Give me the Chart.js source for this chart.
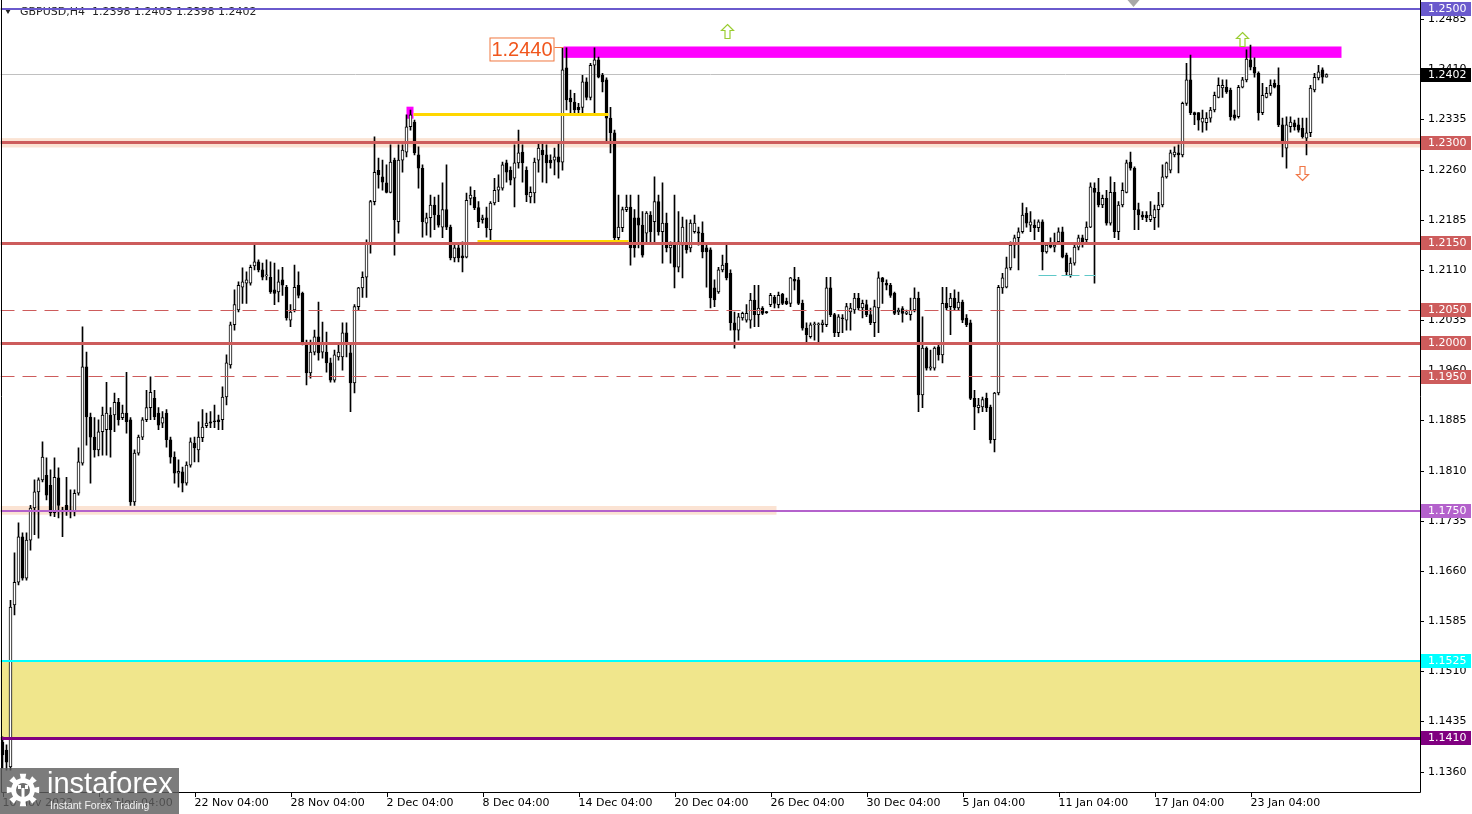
<!DOCTYPE html>
<html>
<head>
<meta charset="utf-8">
<style>
  html, body { margin: 0; padding: 0; background: #fff; }
  #wrap { width: 1472px; height: 814px; }
</style>
<script src="https://cdn.jsdelivr.net/npm/chart.js@4.4.0/dist/chart.umd.min.js"></script>
</head>
<body>
<div id="wrap"><canvas id="chart" width="1472" height="814"></canvas></div>
<script>
// GBPUSD H4 candles
const symbolTitle = 'GBPUSD,H4  1.2398 1.2403 1.2398 1.2402';

const opens = [
  1.1404,1.1392,1.1367,1.1609,1.1643,1.1711,1.1649,1.1706,1.1754,1.1778,
  1.1796,1.1803,1.1788,1.1747,1.1799,1.1751,1.1758,1.1751,1.1748,1.1776,
  1.1821,1.1965,1.1890,1.1860,1.1841,1.1868,1.1871,1.1893,1.1893,1.1912,
  1.1889,1.1896,1.1886,1.1763,1.1836,1.1860,1.1886,1.1904,1.1918,1.1896,
  1.1881,1.1896,1.1856,1.1830,1.1806,1.1808,1.1791,1.1818,1.1851,1.1841,
  1.1859,1.1877,1.1883,1.1884,1.1886,1.1886,1.1920,1.1968,1.2028,1.2050,
  1.2084,1.2090,1.2090,1.2116,1.2122,1.2110,1.2101,1.2099,1.2080,1.2077,
  1.2095,1.2084,1.2035,1.2050,1.2087,1.2075,1.1998,1.1956,1.1987,1.2010,
  1.1987,1.1987,1.1971,1.1945,1.1980,1.1980,1.2016,1.1986,1.1941,1.2055,
  1.2083,1.2099,1.2150,1.2212,1.2259,1.2249,1.2240,1.2226,1.2274,1.2182,
  1.2274,1.2286,1.2324,1.2331,1.2282,1.2262,1.2180,1.2188,1.2207,1.2192,
  1.2174,1.2200,1.2174,1.2128,1.2143,1.2131,1.2129,1.2217,1.2219,1.2203,
  1.2185,1.2188,1.2170,1.2210,1.2229,1.2232,1.2270,1.2259,1.2247,1.2270,
  1.2286,1.2259,1.2219,1.2225,1.2274,1.2289,1.2282,1.2274,1.2274,1.2279,
  1.2271,1.2412,1.2367,1.2361,1.2353,1.2353,1.2391,1.2368,1.2416,1.2424,
  1.2401,1.2394,1.2337,1.2315,1.2158,1.2173,1.2200,1.2204,1.2188,1.2188,
  1.2177,1.2165,1.2192,1.2182,1.2212,1.2167,1.2180,1.2143,1.2147,1.2114,
  1.2147,1.2147,1.2143,1.2167,1.2167,1.2165,1.2143,1.2140,1.2083,1.2077,
  1.2110,1.2120,1.2105,1.2031,1.2020,1.2038,1.2035,1.2035,1.2065,1.2043,
  1.2053,1.2047,1.2058,1.2069,1.2058,1.2074,1.2063,1.2060,1.2096,1.2095,
  1.2060,1.2023,1.2010,1.2028,1.2028,1.2028,1.2028,1.2083,1.2043,1.2016,
  1.2038,1.2035,1.2047,1.2050,1.2068,1.2053,1.2058,1.2043,1.2031,1.2053,
  1.2098,1.2090,1.2087,1.2075,1.2047,1.2052,1.2045,1.2043,1.2050,1.2068,
  1.1923,1.1993,1.1963,1.1963,1.1995,1.1983,1.2060,1.2055,1.2068,1.2053,
  1.2062,1.2038,1.2031,1.1918,1.1904,1.1905,1.1918,1.1905,1.1856,1.1926,
  1.2083,1.2084,1.2113,1.2147,1.2158,1.2167,1.2195,1.2177,1.2177,1.2173,
  1.2182,1.2137,1.2147,1.2144,1.2152,1.2167,1.2132,1.2102,1.2120,1.2144,
  1.2158,1.2155,1.2174,1.2232,1.2226,1.2207,1.2217,1.2180,1.2226,1.2167,
  1.2207,1.2226,1.2271,1.2262,1.2200,1.2192,1.2192,1.2185,1.2188,1.2200,
  1.2207,1.2249,1.2259,1.2282,1.2285,1.2282,1.2359,1.2394,1.2345,1.2345,
  1.2331,1.2330,1.2337,1.2349,1.2368,1.2382,1.2383,1.2379,1.2342,1.2339,
  1.2383,1.2394,1.2424,1.2413,1.2404,1.2345,1.2368,1.2374,1.2389,1.2386,
  1.2327,1.2292,1.2324,1.2330,1.2327,1.2322,1.2307,1.2315,1.2379,1.2397,
  1.2409,1.2398
];
const highs = [
  1.1412,1.1400,1.1616,1.1687,1.1732,1.1717,1.1717,1.1758,1.1796,1.1799,
  1.1853,1.1829,1.1811,1.1829,1.1814,1.1755,1.1800,1.1781,1.1781,1.1844,
  1.2025,1.1987,1.1896,1.1889,1.1886,1.1905,1.1942,1.1904,1.1926,1.1918,
  1.1908,1.1957,1.1889,1.1841,1.1863,1.1889,1.1930,1.1950,1.1930,1.1904,
  1.1898,1.1901,1.1860,1.1838,1.1826,1.1815,1.1823,1.1859,1.1860,1.1883,
  1.1901,1.1896,1.1898,1.1908,1.1893,1.1935,1.1983,1.2032,1.2080,1.2092,
  1.2113,1.2107,1.2117,1.2150,1.2125,1.2120,1.2125,1.2122,1.2120,1.2110,
  1.2114,1.2087,1.2058,1.2117,1.2107,1.2077,1.2005,1.2005,1.2020,1.2062,
  1.2032,1.2017,1.1978,1.1990,1.1998,1.2031,1.2031,1.1998,1.2058,1.2084,
  1.2107,1.2155,1.2214,1.2309,1.2277,1.2274,1.2267,1.2297,1.2277,1.2297,
  1.2297,1.2342,1.2349,1.2334,1.2294,1.2267,1.2195,1.2222,1.2219,1.2222,
  1.2240,1.2267,1.2177,1.2147,1.2150,1.2152,1.2225,1.2234,1.2229,1.2212,
  1.2192,1.2204,1.2212,1.2247,1.2252,1.2271,1.2274,1.2264,1.2297,1.2319,
  1.2297,1.2264,1.2234,1.2277,1.2300,1.2300,1.2297,1.2282,1.2292,1.2301,
  1.2442,1.2442,1.2379,1.2374,1.2359,1.2401,1.2397,1.2419,1.2442,1.2428,
  1.2404,1.2397,1.2353,1.2319,1.2222,1.2204,1.2222,1.2222,1.2200,1.2222,
  1.2197,1.2197,1.2197,1.2249,1.2222,1.2240,1.2195,1.2152,1.2222,1.2197,
  1.2189,1.2185,1.2185,1.2192,1.2174,1.2182,1.2147,1.2143,1.2095,1.2114,
  1.2132,1.2147,1.2110,1.2047,1.2045,1.2047,1.2058,1.2075,1.2087,1.2087,
  1.2055,1.2048,1.2075,1.2072,1.2077,1.2075,1.2068,1.2099,1.2114,1.2099,
  1.2065,1.2031,1.2031,1.2032,1.2031,1.2035,1.2099,1.2099,1.2045,1.2043,
  1.2043,1.2060,1.2060,1.2075,1.2075,1.2065,1.2065,1.2053,1.2065,1.2107,
  1.2099,1.2095,1.2090,1.2077,1.2053,1.2055,1.2050,1.2068,1.2083,1.2077,
  1.2040,1.1995,1.1990,1.1995,1.2001,1.2084,1.2084,1.2075,1.2080,1.2077,
  1.2065,1.2043,1.2035,1.1930,1.1918,1.1920,1.1926,1.1908,1.1927,1.2087,
  1.2105,1.2129,1.2152,1.2162,1.2173,1.2210,1.2203,1.2197,1.2185,1.2185,
  1.2185,1.2150,1.2158,1.2165,1.2173,1.2174,1.2135,1.2128,1.2150,1.2162,
  1.2162,1.2182,1.2240,1.2240,1.2247,1.2222,1.2229,1.2249,1.2241,1.2212,
  1.2240,1.2274,1.2286,1.2264,1.2210,1.2197,1.2197,1.2212,1.2207,1.2226,
  1.2267,1.2271,1.2289,1.2294,1.2297,1.2361,1.2419,1.2431,1.2346,1.2345,
  1.2349,1.2345,1.2353,1.2376,1.2397,1.2394,1.2394,1.2382,1.2349,1.2386,
  1.2398,1.2439,1.2446,1.2427,1.2406,1.2389,1.2383,1.2394,1.2394,1.2412,
  1.2337,1.2339,1.2339,1.2334,1.2337,1.2337,1.2337,1.2386,1.2404,1.2416,
  1.2412,1.2403
];
const lows = [
  1.1365,1.1362,1.1362,1.1594,1.1639,1.1646,1.1646,1.1691,1.1714,1.1709,
  1.1793,1.1766,1.1742,1.1741,1.1739,1.1711,1.1743,1.1739,1.1742,1.1773,
  1.1818,1.1848,1.1791,1.1830,1.1832,1.1833,1.1833,1.1830,1.1868,1.1878,
  1.1886,1.1866,1.1758,1.1758,1.1833,1.1856,1.1883,1.1886,1.1886,1.1871,
  1.1874,1.1845,1.1821,1.1791,1.1785,1.1778,1.1788,1.1815,1.1823,1.1823,
  1.1853,1.1874,1.1874,1.1874,1.1871,1.1871,1.1908,1.1963,1.2020,1.2047,
  1.2060,1.2060,1.2087,1.2110,1.2107,1.2095,1.2095,1.2075,1.2058,1.2062,
  1.2072,1.2035,1.2025,1.2047,1.2068,1.1998,1.1938,1.1948,1.1983,1.1975,
  1.1978,1.1957,1.1942,1.1942,1.1975,1.1960,1.1980,1.1898,1.1926,1.2050,
  1.2069,1.2069,1.2135,1.2207,1.2232,1.2229,1.2225,1.2225,1.2132,1.2165,
  1.2256,1.2279,1.2319,1.2282,1.2232,1.2159,1.2162,1.2159,1.2170,1.2174,
  1.2158,1.2170,1.2125,1.2122,1.2122,1.2107,1.2128,1.2207,1.2200,1.2173,
  1.2180,1.2159,1.2152,1.2207,1.2212,1.2229,1.2241,1.2237,1.2204,1.2262,
  1.2241,1.2212,1.2210,1.2210,1.2256,1.2241,1.2240,1.2262,1.2252,1.2247,
  1.2259,1.2349,1.2345,1.2342,1.2342,1.2342,1.2364,1.2364,1.2345,1.2397,
  1.2376,1.2301,1.2285,1.2150,1.2155,1.2167,1.2197,1.2117,1.2129,1.2143,
  1.2129,1.2150,1.2152,1.2152,1.2162,1.2120,1.2137,1.2120,1.2083,1.2107,
  1.2098,1.2135,1.2137,1.2165,1.2147,1.2128,1.2084,1.2053,1.2055,1.2075,
  1.2107,1.2095,1.2020,1.1993,1.2005,1.2035,1.2032,1.2023,1.2025,1.2025,
  1.2043,1.2045,1.2055,1.2053,1.2053,1.2058,1.2058,1.2055,1.2080,1.2058,
  1.2020,1.2002,1.2008,1.2005,1.2002,1.2017,1.2025,1.2040,1.2010,1.2010,
  1.2016,1.2020,1.2020,1.2045,1.2050,1.2038,1.2040,1.2028,1.2010,1.2016,
  1.2060,1.2080,1.2069,1.2043,1.2043,1.2032,1.2043,1.2035,1.2047,1.1898,
  1.1904,1.1960,1.1960,1.1960,1.1975,1.1971,1.2050,1.2013,1.2050,1.2050,
  1.2031,1.2025,1.1916,1.1871,1.1896,1.1898,1.1898,1.1851,1.1838,1.1923,
  1.2075,1.2083,1.2110,1.2128,1.2110,1.2165,1.2174,1.2167,1.2155,1.2167,
  1.2110,1.2135,1.2143,1.2137,1.2150,1.2128,1.2102,1.2099,1.2117,1.2140,
  1.2144,1.2150,1.2173,1.2090,1.2204,1.2203,1.2177,1.2177,1.2158,1.2155,
  1.2204,1.2225,1.2259,1.2170,1.2170,1.2185,1.2182,1.2182,1.2170,1.2174,
  1.2204,1.2247,1.2255,1.2279,1.2255,1.2279,1.2356,1.2342,1.2327,1.2319,
  1.2316,1.2319,1.2331,1.2346,1.2367,1.2368,1.2374,1.2334,1.2334,1.2337,
  1.2382,1.2391,1.2409,1.2398,1.2334,1.2342,1.2367,1.2371,1.2382,1.2324,
  1.2279,1.2262,1.2316,1.2319,1.2316,1.2307,1.2282,1.2309,1.2376,1.2394,
  1.2389,1.2398
];
const closes = [
  1.1385,1.1374,1.1606,1.1643,1.1711,1.1649,1.1706,1.1754,1.1778,1.1796,
  1.1830,1.1773,1.1747,1.1800,1.1758,1.1748,1.1751,1.1748,1.1776,1.1823,
  1.1965,1.1890,1.1860,1.1841,1.1868,1.1893,1.1896,1.1871,1.1912,1.1886,
  1.1896,1.1883,1.1763,1.1836,1.1860,1.1886,1.1904,1.1927,1.1890,1.1878,
  1.1889,1.1856,1.1830,1.1806,1.1809,1.1791,1.1818,1.1853,1.1844,1.1860,
  1.1875,1.1881,1.1881,1.1883,1.1883,1.1920,1.1971,1.2028,1.2058,1.2087,
  1.2092,1.2095,1.2114,1.2122,1.2110,1.2099,1.2102,1.2077,1.2075,1.2092,
  1.2087,1.2038,1.2047,1.2084,1.2072,1.2002,1.1956,1.1987,1.2010,1.1986,
  1.2002,1.1971,1.1945,1.1983,1.1987,1.2016,1.1998,1.1941,1.2055,1.2083,
  1.2099,1.2150,1.2212,1.2256,1.2252,1.2241,1.2226,1.2271,1.2185,1.2274,
  1.2289,1.2324,1.2342,1.2285,1.2262,1.2182,1.2188,1.2207,1.2192,1.2177,
  1.2200,1.2174,1.2128,1.2143,1.2128,1.2128,1.2214,1.2222,1.2203,1.2182,
  1.2188,1.2173,1.2210,1.2229,1.2234,1.2267,1.2256,1.2244,1.2270,1.2285,
  1.2270,1.2222,1.2226,1.2271,1.2292,1.2282,1.2270,1.2270,1.2279,1.2271,
  1.2409,1.2364,1.2361,1.2349,1.2349,1.2391,1.2368,1.2416,1.2424,1.2398,
  1.2391,1.2337,1.2315,1.2158,1.2174,1.2200,1.2204,1.2143,1.2143,1.2177,
  1.2132,1.2195,1.2167,1.2212,1.2167,1.2180,1.2143,1.2147,1.2114,1.2152,
  1.2174,1.2140,1.2180,1.2180,1.2165,1.2137,1.2137,1.2068,1.2065,1.2110,
  1.2117,1.2098,1.2031,1.2020,1.2040,1.2045,1.2045,1.2065,1.2043,1.2053,
  1.2045,1.2046,1.2072,1.2060,1.2072,1.2060,1.2059,1.2098,1.2093,1.2060,
  1.2023,1.2013,1.2028,1.2029,1.2029,1.2031,1.2083,1.2043,1.2016,1.2040,
  1.2037,1.2055,1.2053,1.2068,1.2053,1.2060,1.2043,1.2031,1.2055,1.2098,
  1.2092,1.2087,1.2072,1.2045,1.2050,1.2045,1.2047,1.2050,1.2068,1.1923,
  1.1993,1.1963,1.1965,1.1993,1.1983,1.2060,1.2053,1.2068,1.2053,1.2062,
  1.2035,1.2028,1.1918,1.1905,1.1908,1.1916,1.1904,1.1856,1.1926,1.2084,
  1.2098,1.2113,1.2147,1.2158,1.2167,1.2192,1.2180,1.2182,1.2173,1.2182,
  1.2137,1.2147,1.2144,1.2147,1.2167,1.2129,1.2107,1.2120,1.2144,1.2158,
  1.2152,1.2174,1.2234,1.2226,1.2207,1.2217,1.2180,1.2226,1.2167,1.2207,
  1.2229,1.2270,1.2262,1.2200,1.2192,1.2189,1.2188,1.2192,1.2200,1.2207,
  1.2249,1.2270,1.2285,1.2286,1.2282,1.2359,1.2394,1.2345,1.2342,1.2334,
  1.2337,1.2337,1.2349,1.2371,1.2386,1.2386,1.2376,1.2339,1.2337,1.2383,
  1.2394,1.2425,1.2413,1.2404,1.2345,1.2371,1.2374,1.2386,1.2383,1.2327,
  1.2301,1.2327,1.2331,1.2324,1.2319,1.2309,1.2315,1.2382,1.2398,1.2406,
  1.2398,1.2402
];

// x axis: 355 bar slots (the last ones are the empty chart shift)
const slotCount = 355;
const dateTickIdx = [0, 24, 48, 72, 96, 120, 144, 168, 192, 216, 240, 264, 288, 312];
const dateTickText = ['10 Nov 2022', '16 Nov 04:00', '22 Nov 04:00', '28 Nov 04:00', '2 Dec 04:00',
  '8 Dec 04:00', '14 Dec 04:00', '20 Dec 04:00', '26 Dec 04:00', '30 Dec 04:00', '5 Jan 04:00',
  '11 Jan 04:00', '17 Jan 04:00', '23 Jan 04:00'];

// price axis
const priceTicks = [1.2485, 1.2410, 1.2335, 1.2260, 1.2185, 1.2110, 1.2035, 1.1960,
  1.1885, 1.1810, 1.1735, 1.1660, 1.1585, 1.1510, 1.1435, 1.1360];
const priceMin = 1.13294;
const priceMax = 1.25135;

// horizontal levels
const levelPrices = [1.2500, 1.2300, 1.2150, 1.2050, 1.2000, 1.1950, 1.1750, 1.1525, 1.1410];
const levelColors = ['#6a5acd', '#cd5c5c', '#cd5c5c', '#cd5c5c', '#cd5c5c', '#cd5c5c', '#b462cc', '#00ffff', '#800080'];
const levelWidths = [2, 3, 3, 1, 3, 1, 2, 2, 3];
const levelDashed = [false, false, false, true, false, true, false, false, false];
const lastPrice = 1.2402;

// zones and drawn objects
const zoneTop = 1.1525, zoneBottom = 1.1410;
const peachBands = [[-0.5, 354.5, 1.2307, 1.2293], [-0.5, 193.5, 1.1757, 1.1744]];
const resistBox = [140.25, 334.75, 1.2444, 1.2427];
const resistText = '1.2440';
const smallBox = [101, 102.75, 1.2354, 1.2336];
const goldLines = [[102.75, 151.5, 1.2342, 3], [118.75, 156.5, 1.2153, 2]];
const cyanSeg = [259, 273.25, 1.2101];
const upArrows = [[181, 1.2478], [309.75, 1.2466]];
const downArrows = [[324.75, 1.2244]];
const shiftMarkerIdx = 282.75;

const wickData = lows.map((lo, i) => [lo, highs[i]]);
const bodyData = opens.map((o, i) => [o, closes[i]]);
const bodyFill = opens.map((o, i) => closes[i] >= o ? '#ffffff' : '#000000');
const slotLabels = Array.from({length: slotCount}, (_, i) => i);

const FONT = '"DejaVu Sans", Verdana, sans-serif';

function hline(ctx, x1, x2, y, color, w, dash) {
  const yy = w % 2 ? Math.round(y - 0.5) + 0.5 : Math.round(y);
  ctx.save();
  ctx.strokeStyle = color;
  ctx.lineWidth = w;
  ctx.setLineDash(dash || []);
  ctx.beginPath();
  ctx.moveTo(x1, yy);
  ctx.lineTo(x2, yy);
  ctx.stroke();
  ctx.restore();
}

function arrow(ctx, x, y, up, color) {
  const d = up ? 1 : -1;
  ctx.save();
  ctx.beginPath();
  ctx.moveTo(x, y);
  ctx.lineTo(x + 6, y + 6 * d);
  ctx.lineTo(x + 2.5, y + 6 * d);
  ctx.lineTo(x + 2.5, y + 14 * d);
  ctx.lineTo(x - 2.5, y + 14 * d);
  ctx.lineTo(x - 2.5, y + 6 * d);
  ctx.lineTo(x - 6, y + 6 * d);
  ctx.closePath();
  ctx.fillStyle = '#fff';
  ctx.fill();
  ctx.strokeStyle = color;
  ctx.lineWidth = 1.2;
  ctx.stroke();
  ctx.restore();
}

function drawLogo(ctx) {
  ctx.save();
  ctx.fillStyle = 'rgba(95,95,95,0.82)';
  ctx.fillRect(0, 768, 179, 46);
  // gear
  const cx = 23, cy = 790;
  ctx.fillStyle = '#fff';
  ctx.beginPath();
  for (let k = 0; k < 16; k++) {
    const a = k * Math.PI / 8 - Math.PI / 16;
    const r = k % 2 ? 12 : 16.5;
    const a2 = a + Math.PI / 8;
    ctx.lineTo(cx + r * Math.cos(a), cy + r * Math.sin(a));
    ctx.lineTo(cx + r * Math.cos(a2), cy + r * Math.sin(a2));
  }
  ctx.closePath();
  ctx.fill();
  ctx.fillStyle = 'rgb(110,110,110)';
  ctx.beginPath();
  ctx.arc(cx, cy, 7, 0, Math.PI * 2);
  ctx.fill();
  ctx.fillStyle = '#fff';
  ctx.fillRect(cx - 1.5, cy - 2, 3, 9);
  ctx.fillRect(cx - 5, cy - 5, 3, 4);
  ctx.fillRect(cx + 2, cy - 5, 3, 4);
  ctx.font = '29px "Liberation Sans", Arial, sans-serif';
  ctx.textBaseline = 'alphabetic';
  ctx.fillText('instaforex', 47, 793);
  ctx.font = '10.5px "Liberation Sans", Arial, sans-serif';
  ctx.fillStyle = 'rgba(255,255,255,0.9)';
  ctx.fillText('Instant Forex Trading', 50, 809);
  ctx.restore();
}

const overlay = {
  id: 'overlay',
  beforeDatasetsDraw(chart) {
    const {ctx, chartArea: a, scales: {x, y}} = chart;
    ctx.save();
    ctx.beginPath();
    ctx.rect(a.left, a.top, a.width, a.height);
    ctx.clip();
    // khaki zone
    const zt = y.getPixelForValue(zoneTop), zb = y.getPixelForValue(zoneBottom);
    ctx.fillStyle = '#f0e68c';
    ctx.fillRect(a.left, zt, a.width, zb - zt);
    // peach bands
    ctx.fillStyle = '#fbe3d3';
    peachBands.forEach(b => {
      const x1 = x.getPixelForValue(b[0]), x2 = x.getPixelForValue(b[1]);
      const y1 = y.getPixelForValue(b[2]), y2 = y.getPixelForValue(b[3]);
      ctx.fillRect(x1, y1, x2 - x1, y2 - y1);
    });
    // magenta boxes
    ctx.fillStyle = '#ff00ff';
    [resistBox, smallBox].forEach(b => {
      const x1 = x.getPixelForValue(b[0]), x2 = x.getPixelForValue(b[1]);
      const y1 = y.getPixelForValue(b[2]), y2 = y.getPixelForValue(b[3]);
      ctx.fillRect(x1, y1, x2 - x1, y2 - y1);
    });
    // bid line
    hline(ctx, a.left, a.right, y.getPixelForValue(lastPrice), '#c0c0c0', 1);
    ctx.restore();
  },
  afterDatasetsDraw(chart) {
    const {ctx, chartArea: a, scales: {x, y}} = chart;
    ctx.save();
    ctx.beginPath();
    ctx.rect(a.left, a.top, a.width, a.height);
    ctx.clip();

    // title
    ctx.fillStyle = '#222';
    ctx.beginPath();
    ctx.moveTo(5, 9); ctx.lineTo(11, 9); ctx.lineTo(8, 14); ctx.closePath();
    ctx.fill();
    ctx.font = '11px ' + FONT;
    ctx.textBaseline = 'middle';
    ctx.textAlign = 'left';
    ctx.fillText(symbolTitle, 20, 12);

    // level lines
    levelPrices.forEach((p, k) => {
      hline(ctx, a.left, a.right, y.getPixelForValue(p), levelColors[k], levelWidths[k],
        levelDashed[k] ? [14, 8] : null);
    });
    // gold lines
    goldLines.forEach(g => {
      hline(ctx, x.getPixelForValue(g[0]), x.getPixelForValue(g[1]), y.getPixelForValue(g[2]), '#ffd700', g[3]);
    });
    // cyan dashed segment
    hline(ctx, x.getPixelForValue(cyanSeg[0]), x.getPixelForValue(cyanSeg[1]), y.getPixelForValue(cyanSeg[2]),
      '#5fc8c8', 1, [18, 5]);
    // arrows
    upArrows.forEach(p => arrow(ctx, Math.round(x.getPixelForValue(p[0])) + 0.5, Math.round(y.getPixelForValue(p[1])) + 0.5, true, '#9acd32'));
    downArrows.forEach(p => arrow(ctx, Math.round(x.getPixelForValue(p[0])) + 0.5, Math.round(y.getPixelForValue(p[1])) + 0.5, false, '#f07848'));

    // 1.2440 label
    const bx = x.getPixelForValue(resistBox[0]);
    const by = y.getPixelForValue(resistBox[2]);
    ctx.strokeStyle = '#f07840';
    ctx.lineWidth = 1;
    ctx.fillStyle = '#fff';
    ctx.fillRect(bx - 74, by - 9, 65, 24);
    ctx.strokeRect(bx - 73.5, by - 8.5, 64, 23);
    ctx.beginPath();
    ctx.moveTo(bx - 9, Math.round(by) + 1.5);
    ctx.lineTo(bx, Math.round(by) + 1.5);
    ctx.stroke();
    ctx.fillStyle = '#f0561c';
    ctx.font = '20px "Liberation Sans", Arial, sans-serif';
    ctx.textAlign = 'center';
    ctx.fillText(resistText, bx - 41.5, by + 4);

    // chart shift marker
    const sx = x.getPixelForValue(shiftMarkerIdx);
    ctx.fillStyle = '#a8a8a8';
    ctx.beginPath();
    ctx.moveTo(sx - 6, 0); ctx.lineTo(sx + 6, 0); ctx.lineTo(sx, 7); ctx.closePath();
    ctx.fill();
    ctx.restore();
  },
  afterDraw(chart) {
    const {ctx, chartArea: a, scales: {x, y}} = chart;
    ctx.save();
    // frame
    ctx.strokeStyle = '#000';
    ctx.lineWidth = 1;
    ctx.beginPath();
    ctx.moveTo(1.5, 0); ctx.lineTo(1.5, 792.5);
    ctx.lineTo(1420.5, 792.5); ctx.lineTo(1420.5, 0);
    ctx.stroke();

    ctx.font = '11px ' + FONT;
    ctx.textBaseline = 'middle';
    ctx.textAlign = 'left';
    ctx.fillStyle = '#000';
    // price ticks
    priceTicks.forEach(v => {
      const py = Math.round(y.getPixelForValue(v)) + 0.5;
      ctx.beginPath();
      ctx.moveTo(1420, py); ctx.lineTo(1424, py);
      ctx.stroke();
      ctx.fillText(v.toFixed(4), 1428, py);
    });
    // date ticks
    dateTickIdx.forEach((idx, k) => {
      const px = Math.round(x.getPixelForValue(idx)) + 0.5;
      ctx.beginPath();
      ctx.moveTo(px, 792); ctx.lineTo(px, 797);
      ctx.stroke();
      ctx.fillText(dateTickText[k], px - 1, 803);
    });

    // level price boxes
    const boxes = levelPrices.map((p, k) => [p, levelColors[k]]);
    boxes.push([lastPrice, '#000000']);
    boxes.forEach(b => {
      const py = Math.round(y.getPixelForValue(b[0]));
      ctx.fillStyle = b[1];
      ctx.fillRect(1421, py - 7, 50, 14);
      ctx.fillStyle = '#fff';
      ctx.fillText(b[0].toFixed(4), 1428, py + 0.5);
    });

    drawLogo(ctx);
    ctx.restore();
  }
};

new Chart(document.getElementById('chart'), {
  type: 'bar',
  data: {
    labels: slotLabels,
    datasets: [
      {
        label: 'wick',
        data: wickData,
        backgroundColor: '#000',
        borderWidth: 0,
        barThickness: 1,
        grouped: false,
        order: 2
      },
      {
        label: 'body',
        data: bodyData,
        backgroundColor: bodyFill,
        borderColor: '#000',
        borderWidth: 1,
        borderSkipped: false,
        barThickness: 3,
        minBarLength: 1,
        grouped: false,
        order: 1
      }
    ]
  },
  options: {
    responsive: false,
    animation: false,
    events: [],
    layout: {padding: {left: 0.5, top: 0, right: 0, bottom: 0}},
    plugins: {legend: {display: false}, tooltip: {enabled: false}},
    scales: {
      x: {
        offset: true,
        grid: {display: false},
        border: {display: false},
        ticks: {display: false},
        afterFit(s) { s.height = 22; }
      },
      y: {
        position: 'right',
        min: priceMin,
        max: priceMax,
        grid: {display: false},
        border: {display: false},
        ticks: {display: false},
        afterFit(s) { s.width = 51.5; }
      }
    }
  },
  plugins: [overlay]
});
</script>
</body>
</html>
